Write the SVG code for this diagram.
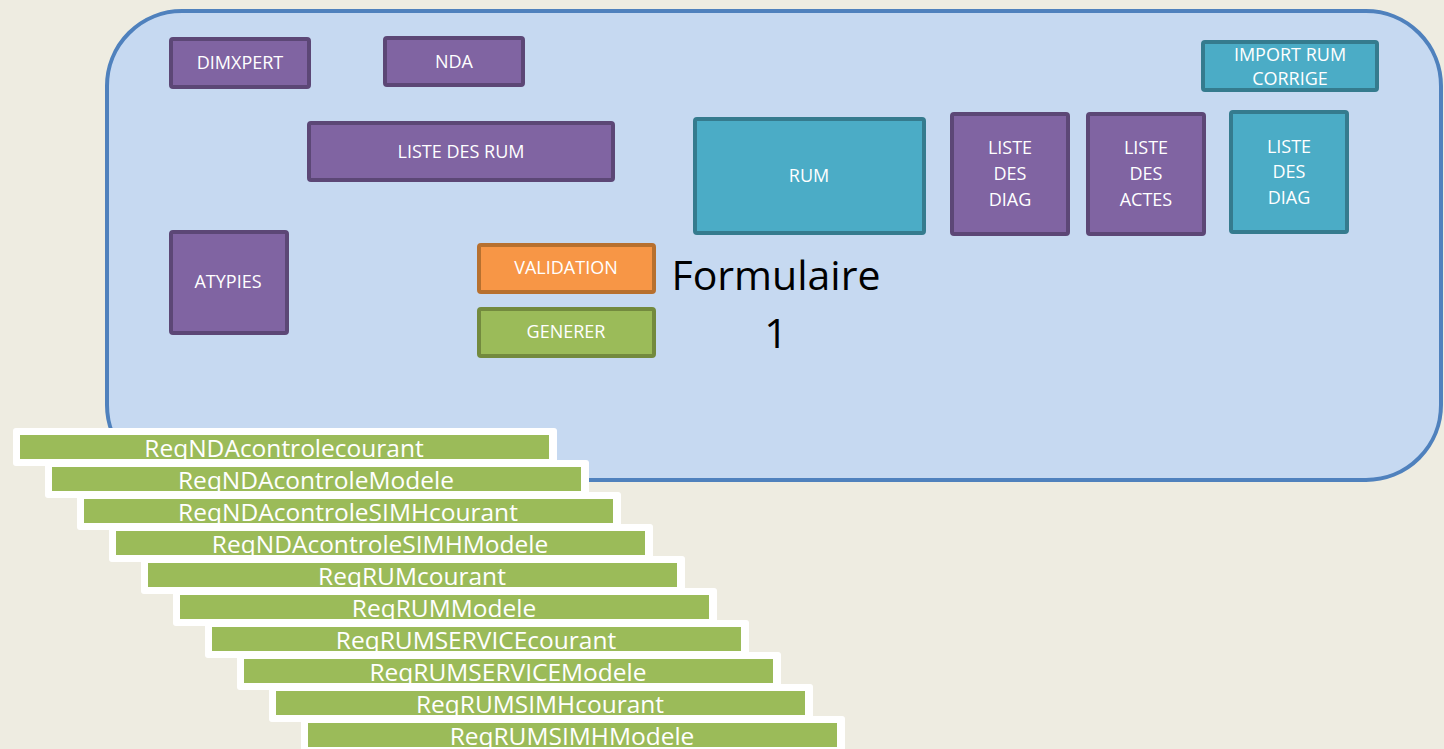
<svg xmlns="http://www.w3.org/2000/svg" width="1444" height="749" viewBox="0 0 1444 749">
<defs>
<style>
.lbl{font-family:"Open Sans","Noto Sans",sans-serif;font-size:18px;fill:#ffffff;text-anchor:middle;}
.bar{font-family:"Open Sans","Noto Sans",sans-serif;font-size:24.5px;fill:#ffffff;text-anchor:middle;}
.purple{fill:#8064A2;stroke:#5C4776;stroke-width:4;}
.teal{fill:#4BACC6;stroke:#357B8E;stroke-width:4;}
.orange{fill:#F79646;stroke:#B7702F;stroke-width:4;}
.green{fill:#9BBB59;stroke:#738A3E;stroke-width:4;}
.wb{fill:#ffffff;}
.gb{fill:#9BBB59;}
</style>
</defs>
<rect x="0" y="0" width="1444" height="749" fill="#EEECE1"/>
<g id="formulaire">
<rect x="107" y="11" width="1334" height="469" rx="75" ry="75" fill="#C6D9F1" stroke="#4F81BD" stroke-width="4"/>
<text x="776" y="290" font-family="Open Sans, Noto Sans, sans-serif" font-size="41" fill="#000000" text-anchor="middle">Formulaire</text>
<text x="776" y="348" font-family="Open Sans, Noto Sans, sans-serif" font-size="41" fill="#000000" text-anchor="middle">1</text>
</g>
<g id="dimxpert"><rect class="purple" x="171" y="39" width="138" height="48" rx="2"/><text class="lbl" x="240" y="69">DIMXPERT</text></g>
<g id="nda"><rect class="purple" x="385" y="38" width="138" height="47" rx="2"/><text class="lbl" x="454" y="68">NDA</text></g>
<g id="listerum"><rect class="purple" x="309" y="123" width="304" height="57" rx="2"/><text class="lbl" x="461" y="158">LISTE DES RUM</text></g>
<g id="atypies"><rect class="purple" x="171" y="232" width="116" height="101" rx="2"/><text class="lbl" x="228" y="288">ATYPIES</text></g>
<g id="validation"><rect class="orange" x="479" y="245" width="175" height="47" rx="2"/><text class="lbl" x="566" y="274">VALIDATION</text></g>
<g id="generer"><rect class="green" x="479" y="309" width="175" height="47" rx="2"/><text class="lbl" x="566" y="338">GENERER</text></g>
<g id="rum"><rect class="teal" x="695" y="119" width="229" height="114" rx="2"/><text class="lbl" x="809" y="182">RUM</text></g>
<g id="listediag1"><rect class="purple" x="952" y="114" width="116" height="120" rx="2"/><text class="lbl" x="1010" y="154">LISTE</text><text class="lbl" x="1010" y="180">DES</text><text class="lbl" x="1010" y="206">DIAG</text></g>
<g id="listeactes"><rect class="purple" x="1088" y="114" width="116" height="120" rx="2"/><text class="lbl" x="1146" y="154">LISTE</text><text class="lbl" x="1146" y="180">DES</text><text class="lbl" x="1146" y="206">ACTES</text></g>
<g id="listediag2"><rect class="teal" x="1231" y="112" width="116" height="120" rx="2"/><text class="lbl" x="1289" y="153">LISTE</text><text class="lbl" x="1289" y="178">DES</text><text class="lbl" x="1289" y="204">DIAG</text></g>
<g id="importrum"><rect class="teal" x="1203" y="42" width="174" height="48" rx="2"/><text class="lbl" x="1290" y="61">IMPORT RUM</text><text class="lbl" x="1290" y="85">CORRIGE</text></g>
<g id="connectors"></g>
<g id="bar1"><rect class="wb" x="13" y="428" width="544" height="38" rx="3"/><rect class="gb" x="20" y="435" width="529" height="24"/><text class="bar" x="284" y="457">ReqNDAcontrolecourant</text></g>
<g id="bar2"><rect class="wb" x="45" y="460" width="544" height="38" rx="3"/><rect class="gb" x="52" y="467" width="529" height="24"/><text class="bar" x="316" y="489">ReqNDAcontroleModele</text></g>
<g id="bar3"><rect class="wb" x="77" y="492" width="544" height="38" rx="3"/><rect class="gb" x="84" y="499" width="529" height="24"/><text class="bar" x="348" y="521">ReqNDAcontroleSIMHcourant</text></g>
<g id="bar4"><rect class="wb" x="109" y="524" width="544" height="38" rx="3"/><rect class="gb" x="116" y="531" width="529" height="24"/><text class="bar" x="380" y="553">ReqNDAcontroleSIMHModele</text></g>
<g id="bar5"><rect class="wb" x="141" y="556" width="544" height="38" rx="3"/><rect class="gb" x="148" y="563" width="529" height="24"/><text class="bar" x="412" y="585">ReqRUMcourant</text></g>
<g id="bar6"><rect class="wb" x="173" y="588" width="544" height="38" rx="3"/><rect class="gb" x="180" y="595" width="529" height="24"/><text class="bar" x="444" y="617">ReqRUMModele</text></g>
<g id="bar7"><rect class="wb" x="205" y="620" width="544" height="38" rx="3"/><rect class="gb" x="212" y="627" width="529" height="24"/><text class="bar" x="476" y="649">ReqRUMSERVICEcourant</text></g>
<g id="bar8"><rect class="wb" x="237" y="652" width="544" height="38" rx="3"/><rect class="gb" x="244" y="659" width="529" height="24"/><text class="bar" x="508" y="681">ReqRUMSERVICEModele</text></g>
<g id="bar9"><rect class="wb" x="269" y="684" width="544" height="38" rx="3"/><rect class="gb" x="276" y="691" width="529" height="24"/><text class="bar" x="540" y="713">ReqRUMSIMHcourant</text></g>
<g id="bar10"><rect class="wb" x="301" y="716" width="544" height="38" rx="3"/><rect class="gb" x="308" y="723" width="529" height="24"/><text class="bar" x="572" y="745">ReqRUMSIMHModele</text></g>
</svg>
